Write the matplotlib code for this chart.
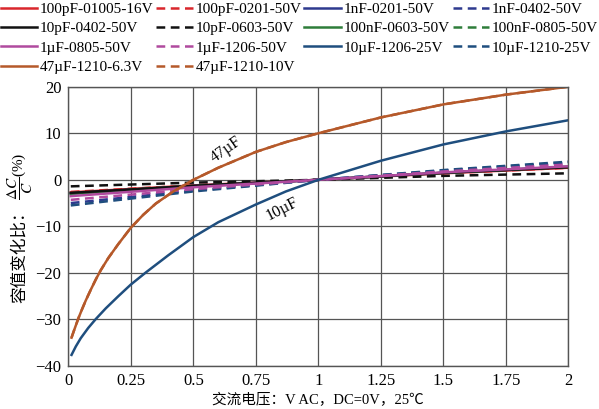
import numpy as np
import matplotlib
matplotlib.use('Agg')
import matplotlib.pyplot as plt

plt.rcParams['font.family'] = ['Liberation Serif', 'Noto Sans CJK SC']
plt.rcParams['mathtext.fontset'] = 'stix'

# small capacitors: nearly straight lines through (1, 0)
x_small = [0.01, 0.5, 1.0, 1.5, 2.0]
y_100pF_01005 = [-2.7, -1.2, 0.0, 1.4, 2.6]
y_100pF_0201 = [-2.6, -1.2, 0.0, 1.4, 2.6]
y_1nF_0201 = [-2.9, -1.3, 0.0, 1.5, 2.8]
y_1nF_0402 = [-5.0, -2.3, 0.0, 2.0, 3.7]
y_10pF_0402 = [-2.8, -1.3, 0.0, 1.5, 2.7]
y_10pF_0603 = [-1.4, -0.6, 0.0, 0.85, 1.4]
y_100nF_0603 = [-3.0, -1.4, 0.0, 1.5, 2.8]
y_100nF_0805 = [-2.9, -1.3, 0.0, 1.5, 2.8]
y_1uF_0805 = [-3.5, -1.6, 0.0, 1.6, 2.9]
y_1uF_1206 = [-4.3, -2.0, 0.0, 1.8, 3.3]
y_10uF_1210 = [-5.5, -2.5, 0.0, 2.1, 3.9]

# 47uF-1210-6.3V
x_47 = [0.013, 0.02, 0.03, 0.04, 0.055, 0.07, 0.09, 0.11, 0.13, 0.16, 0.2, 0.25,
        0.3, 0.35, 0.42, 0.5, 0.6, 0.75, 0.87, 1.0, 1.25, 1.5, 1.75, 2.0]
y_47 = [-33.9, -32.8, -31.3, -29.8, -27.8, -25.9, -23.6, -21.4, -19.4, -16.8, -13.8, -10.3,
        -7.5, -5.1, -2.5, 0.0, 2.6, 6.0, 8.1, 10.0, 13.4, 16.2, 18.3, 20.0]

# 10uF-1206-25V
x_10 = [0.013, 0.03, 0.05, 0.08, 0.11, 0.15, 0.2, 0.25, 0.31, 0.4, 0.5, 0.6, 0.75,
        0.87, 1.0, 1.25, 1.5, 1.75, 2.0]
y_10 = [-37.6, -35.8, -34.0, -31.8, -29.9, -27.6, -25.0, -22.5, -19.9, -16.2, -12.3, -9.1, -5.3,
        -2.5, 0.0, 4.1, 7.6, 10.4, 12.8]

xticks = [0, 0.25, 0.5, 0.75, 1, 1.25, 1.5, 1.75, 2]
xtick_labels = ['0', '0.25', '0.5', '0.75', '1', '1.25', '1.5', '1.75', '2']
yticks = [-40, -30, -20, -10, 0, 10, 20]

red = '#d9262c'
black = '#111111'
navy = '#2e3a8f'
green = '#2e7d3a'
magenta = '#b04a9e'
steel = '#1f4e7e'
brown = '#b5592a'
dash = (0, (3.5, 2.2))

fig = plt.figure(figsize=(5.99, 4.09), dpi=100)
ax = fig.add_axes([0.114, 0.105, 0.835, 0.683])

lines = {}
lw = 1.8
lines['100pF-01005-16V'], = ax.plot(x_small, y_100pF_01005, color=red, lw=lw)
lines['100pF-0201-50V'], = ax.plot(x_small, y_100pF_0201, color=red, lw=lw, ls=dash)
lines['1nF-0201-50V'], = ax.plot(x_small, y_1nF_0201, color=navy, lw=lw)
lines['100nF-0805-50V'], = ax.plot(x_small, y_100nF_0805, color=green, lw=lw, ls=dash)
lines['100nF-0603-50V'], = ax.plot(x_small, y_100nF_0603, color=green, lw=lw)
lines['10pF-0402-50V'], = ax.plot(x_small, y_10pF_0402, color=black, lw=lw)
lines['10pF-0603-50V'], = ax.plot(x_small, y_10pF_0603, color=black, lw=lw, ls=dash)
lines['1nF-0402-50V'], = ax.plot(x_small, y_1nF_0402, color=navy, lw=lw, ls=dash)
lines['10µF-1210-25V'], = ax.plot(x_small, y_10uF_1210, color=steel, lw=lw, ls=dash)
lines['1µF-1206-50V'], = ax.plot(x_small, y_1uF_1206, color=magenta, lw=lw, ls=dash)
lines['1µF-0805-50V'], = ax.plot(x_small, y_1uF_0805, color=magenta, lw=lw)
lines['47µF-1210-10V'], = ax.plot(x_47, y_47, color=brown, lw=lw, ls=dash)
lines['47µF-1210-6.3V'], = ax.plot(x_47, y_47, color=brown, lw=lw)
lines['10µF-1206-25V'], = ax.plot(x_10, y_10, color=steel, lw=lw)

ax.text(0.63, 6.4, '47µF', rotation=35, ha='center', va='center', fontsize=11.5)
ax.text(0.855, -6.3, '10µF', rotation=27, ha='center', va='center', fontsize=11.5)

ax.set_xlim(0, 2)
ax.set_ylim(-40, 20)
ax.set_xticks(xticks)
ax.set_xticklabels(xtick_labels)
ax.set_yticks(yticks)
ax.tick_params(length=0, labelsize=12, pad=5)
ax.grid(True, color='#555555', lw=0.9)
for s in ax.spines.values():
    s.set_color('#555555')
    s.set_linewidth(1.0)

ax.set_xlabel('交流电压：V AC，DC=0V，25℃', fontsize=10.5, labelpad=3)

# y label in two parts: CJK text, then the mathtext fraction
fig.text(20 / 599, 1 - 253 / 409, '容值变化比：', rotation=90, fontsize=12,
         family=['Noto Sans CJK SC'], ha='center', va='center')
fig.text(21 / 599, 1 - 176 / 409, r'$\dfrac{\Delta C}{C}$(%)', rotation=90, fontsize=11,
         ha='center', va='center')

# legend: column-major fill so rows read across like the original
order = ['100pF-01005-16V', '10pF-0402-50V', '1µF-0805-50V', '47µF-1210-6.3V',
         '100pF-0201-50V', '10pF-0603-50V', '1µF-1206-50V', '47µF-1210-10V',
         '1nF-0201-50V', '100nF-0603-50V', '10µF-1206-25V',
         '1nF-0402-50V', '100nF-0805-50V', '10µF-1210-25V']
fig.legend([lines[k] for k in order], order, ncol=4, loc='upper left',
           bbox_to_anchor=(-0.014, 1.017), frameon=False, fontsize=11,
           handlelength=2.4, handletextpad=0.15, columnspacing=0.2,
           labelspacing=0.37, borderaxespad=0.2)

fig.savefig('out.png', dpi=100)
